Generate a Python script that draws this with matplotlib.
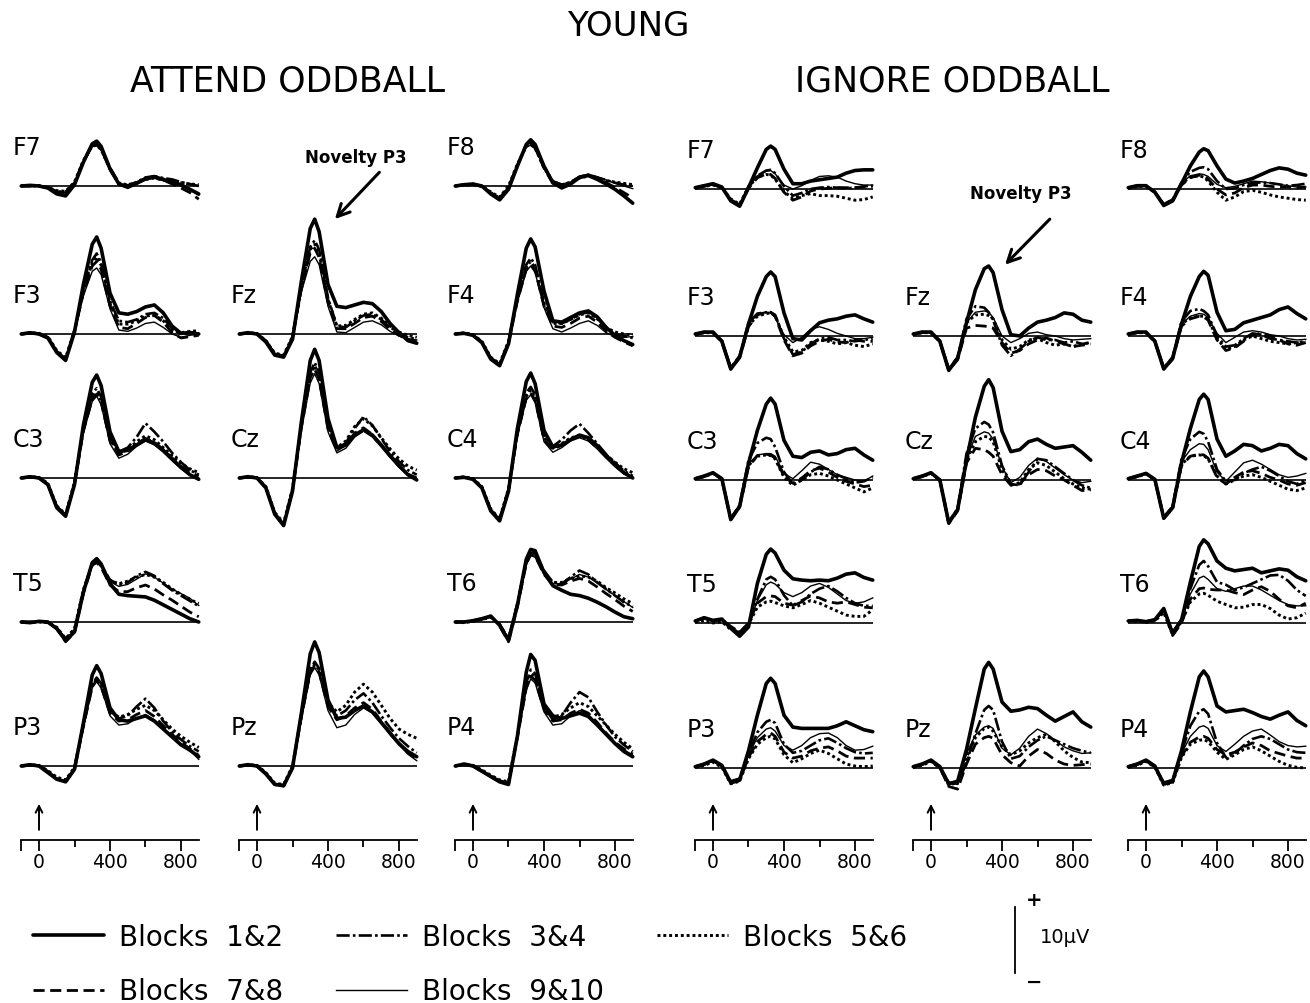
import numpy as np
import matplotlib.pyplot as plt
from matplotlib.lines import Line2D

plt.rcParams['font.family'] = 'DejaVu Sans'

W, H = 1310, 1004

times = [-100, -50, 0, 50, 100, 150, 200, 250, 300, 325, 350, 400, 450,
         500, 550, 600, 650, 700, 750, 800, 850, 900]
blocks = ['Blocks  1&2', 'Blocks  3&4', 'Blocks  5&6', 'Blocks  7&8', 'Blocks  9&10']
scale_uv = 10

# ---- ATTEND ODDBALL (uV), rows = blocks 1&2, 3&4, 5&6, 7&8, 9&10
att_F7 = [[0, 0.1, 0, -0.3, -1.2, -1.5, 0.2, 3.6, 6.4, 6.8, 6.0, 2.6, 0.3, -0.2, 0.4, 1.1, 1.4, 1.0, 0.6, 0.2, -0.5, -1.2],
          [0, 0, 0.1, -0.2, -0.8, -0.9, 0.5, 3.8, 6.2, 6.4, 5.7, 2.8, 0.5, 0.1, 0.6, 1.3, 1.5, 1.2, 1.0, 0.6, 0.3, 0.0],
          [0.1, 0, 0, -0.2, -0.7, -0.8, 0.6, 3.9, 6.0, 6.2, 5.5, 2.6, 0.4, 0.2, 0.5, 1.0, 1.2, 0.9, 0.7, 0.5, 0.3, 0.2],
          [0, 0, 0, -0.3, -0.9, -1.0, 0.4, 3.7, 6.1, 6.3, 5.6, 2.5, 0.3, 0.0, 0.5, 1.2, 1.3, 0.9, 0.3, -0.3, -1.0, -2.0],
          [0, 0.1, 0, -0.2, -0.8, -1.1, 0.3, 3.5, 6.0, 6.1, 5.4, 2.4, 0.2, 0.0, 0.3, 0.9, 1.2, 0.8, 0.4, 0.0, -0.6, -1.4]]
att_F8 = [[0, 0.2, 0.3, 0, -1.2, -2.1, -0.5, 3.0, 6.3, 7.0, 6.3, 3.0, 0.5, -0.3, 0.3, 1.3, 1.6, 1.0, 0.3, -0.5, -1.5, -2.6],
          [0, 0.2, 0.3, 0, -1.0, -1.8, -0.2, 3.2, 6.1, 6.5, 5.9, 3.0, 0.7, 0.2, 0.6, 1.4, 1.7, 1.3, 0.9, 0.5, 0.2, 0.0],
          [0, 0.1, 0.2, 0, -0.9, -1.7, 0, 3.3, 6.0, 6.3, 5.7, 2.8, 0.6, 0.2, 0.5, 1.2, 1.5, 1.1, 0.8, 0.6, 0.4, 0.2],
          [0, 0.2, 0.3, -0.1, -1.1, -1.9, -0.3, 3.1, 6.2, 6.6, 5.8, 2.7, 0.4, -0.1, 0.4, 1.3, 1.6, 1.1, 0.5, -0.2, -1.0, -1.8],
          [0, 0.1, 0.2, 0, -1.0, -1.8, -0.2, 3.0, 5.9, 6.2, 5.6, 2.9, 0.8, 0.3, 0.6, 1.5, 1.8, 1.4, 0.9, 0.4, 0, -0.4]]
att_F3 = [[0, 0.2, 0, -0.6, -2.8, -4.0, 0.3, 7.5, 13.6, 14.7, 13.0, 6.2, 3.2, 3.0, 3.4, 4.1, 4.4, 3.2, 1.2, 0.1, 0.2, 0],
          [0, 0.1, 0, -0.5, -2.6, -3.8, 0.5, 6.8, 11.2, 12.2, 10.8, 5.0, 2.0, 1.8, 2.2, 3.0, 3.2, 2.4, 0.8, 0, 0.3, 0.1],
          [0, 0.2, 0.1, -0.4, -2.5, -3.6, 0.6, 6.5, 10.8, 11.7, 10.4, 4.6, 1.5, 1.5, 2.0, 2.7, 2.9, 2.0, 0.6, 0.2, 0.4, 0.5],
          [0, 0.1, 0, -0.6, -2.7, -3.9, 0.4, 6.2, 10.3, 11.0, 9.8, 4.3, 1.0, 0.8, 1.6, 2.5, 2.8, 1.8, 0.2, -0.6, -0.4, -0.2],
          [0, 0.1, 0, -0.5, -2.6, -3.7, 0.2, 5.8, 9.5, 10.0, 9.0, 3.8, 0.6, 0.4, 0.9, 1.6, 1.8, 1.0, 0, -0.5, -0.2, 0]]
att_Fz = [[0, 0.2, 0, -1.2, -3.2, -3.5, -0.8, 8.0, 16.0, 17.4, 15.5, 7.5, 4.2, 4.0, 4.4, 4.8, 4.6, 3.4, 1.6, 0.2, -1.0, -1.4],
          [0, 0.1, 0, -1.0, -3.0, -3.3, -0.5, 7.2, 13.2, 14.2, 12.8, 5.5, 1.2, 1.0, 2.0, 2.8, 3.0, 2.2, 1.0, 0.2, -0.5, -0.8],
          [0, 0.2, 0.1, -1.0, -2.9, -3.2, -0.4, 7.0, 12.8, 13.6, 12.2, 5.2, 1.2, 1.3, 2.2, 3.0, 3.2, 2.4, 1.2, 0.3, -0.2, -0.5],
          [0, 0.1, 0, -1.1, -3.1, -3.4, -0.6, 6.8, 12.3, 13.0, 11.6, 4.8, 0.8, 0.8, 1.6, 2.5, 2.7, 1.9, 0.7, -0.2, -0.8, -1.2],
          [0, 0.1, 0, -1.0, -3.0, -3.3, -0.6, 6.4, 11.0, 11.7, 10.5, 4.2, 0.3, 0.2, 1.0, 1.8, 2.0, 1.4, 0.4, -0.3, -0.7, -0.9]]
att_F4 = [[0, 0.1, -0.2, -1.3, -3.8, -4.8, -1.5, 6.0, 13.0, 14.4, 13.2, 6.5, 2.0, 1.8, 2.5, 3.2, 3.5, 2.6, 1.0, -0.2, -1.0, -1.6],
          [0, 0.1, -0.1, -1.2, -3.6, -4.6, -1.2, 5.4, 10.5, 11.5, 10.5, 4.8, 1.8, 1.6, 2.2, 3.0, 3.3, 2.4, 0.9, 0, -0.3, -0.6],
          [0, 0.2, -0.1, -1.1, -3.5, -4.5, -1.1, 5.2, 10.2, 11.0, 10.0, 4.5, 1.6, 1.6, 2.2, 2.9, 3.2, 2.3, 1.0, 0.3, 0, -0.2],
          [0, 0.1, -0.2, -1.3, -3.7, -4.7, -1.4, 5.0, 9.8, 10.6, 9.7, 4.2, 1.2, 1.0, 1.6, 2.4, 2.7, 1.8, 0.4, -0.5, -1.2, -1.8],
          [0, 0.1, -0.1, -1.2, -3.6, -4.6, -1.3, 4.8, 9.5, 10.3, 9.3, 4.0, 0.8, 0.3, 0.9, 1.6, 2.0, 1.3, 0.2, -0.4, -0.5, -0.4]]
att_C3 = [[0, 0.2, 0, -1.0, -4.5, -5.8, -1.0, 8.0, 14.5, 15.6, 14.0, 7.0, 4.0, 4.2, 5.0, 5.8, 5.3, 4.2, 2.9, 1.6, 0.5, -0.2],
          [0, 0.1, 0, -0.9, -4.3, -5.6, -0.8, 7.5, 12.8, 13.6, 12.3, 6.2, 4.0, 4.6, 6.2, 8.3, 7.0, 5.5, 3.8, 2.4, 1.2, 0.5],
          [0, 0.2, 0.1, -0.8, -4.2, -5.5, -0.6, 7.3, 12.3, 13.0, 11.8, 5.9, 3.8, 4.3, 5.5, 6.4, 5.8, 4.6, 3.4, 2.2, 1.4, 0.8],
          [0, 0.1, 0, -1.0, -4.4, -5.7, -0.9, 7.1, 12.0, 12.7, 11.5, 5.6, 3.5, 4.0, 5.2, 6.0, 5.4, 4.3, 3.0, 1.8, 0.9, 0.3],
          [0, 0.1, 0, -0.9, -4.3, -5.6, -1.0, 6.8, 11.6, 12.4, 11.1, 5.2, 3.0, 3.6, 4.8, 5.6, 5.0, 3.9, 2.6, 1.4, 0.5, 0]]
att_Cz = [[0, 0.2, 0, -1.5, -5.5, -7.2, -2.0, 8.5, 17.8, 19.5, 17.8, 9.0, 4.6, 5.0, 6.5, 7.3, 6.5, 5.0, 3.4, 1.9, 0.5, -0.3],
          [0, 0.1, 0, -1.4, -5.3, -7.0, -1.8, 8.0, 16.0, 17.5, 16.0, 8.0, 4.5, 5.3, 7.5, 9.3, 8.0, 6.0, 4.0, 2.5, 1.2, 0.5],
          [0, 0.2, 0.1, -1.3, -5.2, -6.8, -1.6, 7.8, 15.6, 17.0, 15.6, 7.8, 4.6, 5.6, 7.8, 9.0, 7.9, 6.1, 4.4, 2.9, 1.8, 1.2],
          [0, 0.1, 0, -1.5, -5.4, -7.1, -1.9, 7.6, 15.2, 16.5, 15.0, 7.4, 4.2, 5.0, 6.8, 7.6, 6.6, 5.0, 3.3, 1.8, 0.6, 0],
          [0, 0.1, 0, -1.4, -5.3, -7.0, -1.9, 7.2, 14.4, 15.8, 14.3, 7.0, 3.8, 4.5, 6.2, 7.1, 6.2, 4.7, 3.1, 1.6, 0.4, -0.2]]
att_C4 = [[0, 0.1, -0.2, -1.5, -5.0, -6.5, -2.0, 7.5, 14.6, 15.9, 14.3, 7.2, 4.7, 5.0, 5.8, 6.5, 6.1, 4.9, 3.4, 2.0, 0.8, 0],
          [0, 0.1, -0.1, -1.4, -4.8, -6.3, -1.8, 7.0, 12.9, 13.8, 12.6, 6.4, 4.8, 5.8, 7.2, 8.2, 6.8, 5.2, 3.6, 2.3, 1.1, 0.3],
          [0, 0.2, -0.1, -1.3, -4.7, -6.2, -1.6, 6.8, 12.4, 13.3, 12.1, 6.1, 4.5, 5.2, 6.1, 6.4, 5.8, 4.7, 3.5, 2.4, 1.4, 0.8],
          [0, 0.1, -0.2, -1.5, -4.9, -6.4, -1.9, 6.6, 12.1, 12.9, 11.8, 5.8, 4.3, 5.0, 5.9, 6.3, 5.8, 4.6, 3.2, 1.9, 0.8, 0.1],
          [0, 0.1, -0.1, -1.4, -4.8, -6.3, -1.8, 6.4, 11.8, 12.6, 11.4, 5.5, 3.9, 4.6, 5.6, 6.1, 5.6, 4.4, 3.0, 1.7, 0.6, 0]]
att_T5 = [[0, -0.1, 0.1, 0, -1.0, -2.8, -1.5, 4.5, 9.0, 9.6, 8.8, 5.8, 4.2, 4.0, 3.9, 3.8, 3.3, 2.6, 1.9, 1.2, 0.5, 0],
          [0, 0, 0.1, -0.1, -0.9, -2.6, -1.2, 4.8, 8.8, 9.2, 8.6, 6.4, 5.6, 6.0, 7.0, 7.6, 7.0, 5.8, 4.8, 4.0, 3.2, 2.4],
          [0, -0.1, 0, -0.1, -0.8, -2.5, -1.0, 4.9, 8.7, 9.1, 8.5, 6.3, 5.8, 6.2, 6.8, 7.2, 6.8, 6.0, 5.0, 4.2, 3.4, 2.8],
          [0, 0, 0.1, 0, -1.0, -3.0, -1.6, 4.3, 8.6, 9.0, 8.3, 5.6, 4.6, 4.6, 5.2, 5.6, 5.0, 4.1, 3.3, 2.4, 1.5, 0.8],
          [0, 0, 0, -0.1, -0.9, -2.7, -1.3, 4.6, 8.7, 9.3, 8.5, 6.1, 5.4, 5.7, 6.5, 7.3, 6.8, 5.9, 5.0, 4.3, 3.6, 2.5]]
att_T6 = [[0, 0, 0.2, 0.5, 0.9, -0.5, -2.8, 2.5, 9.5, 11.0, 10.8, 7.5, 5.5, 4.8, 4.2, 4.0, 3.6, 3.0, 2.3, 1.5, 0.8, 0.5],
          [0, 0, 0.2, 0.4, 0.8, -0.3, -2.5, 2.8, 9.2, 10.6, 10.4, 7.8, 6.0, 5.8, 6.8, 7.8, 7.2, 6.0, 5.0, 4.0, 3.0, 2.3],
          [0, -0.1, 0.1, 0.4, 0.7, -0.4, -2.6, 2.7, 9.0, 10.4, 10.2, 7.6, 6.0, 6.0, 6.6, 7.0, 6.8, 6.2, 5.2, 4.4, 3.5, 2.8],
          [0, 0, 0.2, 0.5, 0.9, -0.6, -3.0, 2.3, 8.8, 10.2, 10.0, 7.2, 5.7, 5.6, 6.2, 6.6, 6.2, 5.3, 4.3, 3.4, 2.4, 1.6],
          [0, 0, 0.1, 0.4, 0.8, -0.4, -2.7, 2.5, 8.7, 10.1, 9.8, 7.3, 5.8, 5.8, 6.5, 7.2, 6.8, 5.9, 4.9, 4.0, 3.1, 2.2]]
att_P3 = [[0, 0.2, 0, -1.0, -2.0, -2.4, -0.5, 6.5, 13.8, 15.2, 14.0, 8.8, 7.0, 6.8, 7.2, 7.6, 6.8, 5.6, 4.4, 3.2, 2.4, 1.4],
          [0, 0.1, 0, -0.8, -1.9, -2.3, -0.3, 6.2, 12.4, 13.4, 12.5, 8.4, 7.2, 7.6, 9.0, 10.2, 8.8, 6.8, 5.2, 4.0, 3.0, 2.2],
          [0, 0.2, 0.1, -0.7, -1.7, -2.1, -0.2, 6.3, 12.2, 13.2, 12.3, 8.3, 7.4, 7.8, 8.6, 9.2, 8.4, 7.0, 5.6, 4.5, 3.6, 2.8],
          [0, 0.1, 0, -0.9, -2.0, -2.4, -0.5, 6.0, 12.0, 13.0, 12.0, 8.0, 6.8, 7.0, 7.8, 8.4, 7.5, 6.1, 4.8, 3.6, 2.6, 1.6],
          [0, 0.1, 0, -0.8, -1.9, -2.2, -0.4, 5.8, 11.9, 12.8, 11.8, 7.6, 6.2, 6.4, 7.2, 7.8, 7.0, 5.8, 4.5, 3.4, 2.4, 1.0]]
att_Pz = [[0, 0.2, 0, -1.2, -2.8, -3.0, -0.3, 8.0, 17.0, 18.8, 17.2, 10.0, 7.2, 7.4, 8.4, 9.1, 8.2, 6.6, 5.0, 3.4, 2.2, 1.4],
          [0, 0.1, 0, -1.1, -2.7, -2.9, -0.2, 7.6, 14.6, 15.8, 14.8, 9.4, 7.6, 8.4, 10.0, 11.0, 9.6, 7.6, 5.8, 4.2, 3.0, 2.0],
          [0, 0.2, 0.1, -1.0, -2.6, -2.8, 0, 7.8, 14.4, 15.4, 14.6, 9.6, 8.2, 9.2, 11.2, 12.4, 11.2, 9.2, 7.2, 5.6, 4.8, 4.2],
          [0, 0.1, 0, -1.2, -2.8, -3.0, -0.3, 7.4, 14.2, 15.2, 14.2, 9.0, 7.0, 7.6, 8.8, 9.6, 8.6, 6.8, 5.0, 3.4, 2.0, 1.0],
          [0, 0.1, 0, -1.1, -2.7, -2.9, -0.4, 7.0, 13.8, 14.9, 13.8, 8.4, 5.8, 6.2, 7.8, 8.8, 8.0, 6.4, 4.7, 3.2, 1.8, 0.8]]
att_P4 = [[0, 0.3, 0, -0.8, -1.6, -2.4, -2.8, 4.5, 14.2, 16.9, 16.0, 9.4, 7.6, 7.2, 7.6, 8.0, 7.5, 6.2, 4.8, 3.4, 2.2, 1.4],
          [0, 0.2, 0.1, -0.7, -1.5, -2.2, -2.6, 4.6, 12.6, 14.6, 14.0, 9.0, 7.0, 7.6, 9.6, 11.2, 10.4, 8.2, 6.2, 4.4, 3.2, 2.2],
          [0, 0.3, 0.1, -0.6, -1.4, -2.1, -2.4, 4.7, 12.2, 14.0, 13.5, 9.0, 7.4, 7.8, 8.8, 9.6, 9.0, 7.6, 6.2, 4.8, 3.6, 2.6],
          [0, 0.2, 0, -0.8, -1.6, -2.3, -2.7, 4.3, 11.8, 13.6, 13.0, 8.6, 6.8, 7.0, 8.0, 8.6, 8.0, 6.6, 5.0, 3.6, 2.6, 1.8],
          [0, 0.2, 0, -0.7, -1.5, -2.2, -2.6, 4.2, 11.5, 13.2, 12.6, 8.2, 6.2, 6.4, 7.6, 8.4, 7.8, 6.4, 4.9, 3.5, 2.5, 1.6]]

# ---- IGNORE ODDBALL (uV)
ign_F7 = [[0.2, 0.5, 0.8, 0.3, -1.8, -2.6, 0.2, 3.2, 6.0, 6.5, 6.0, 3.0, 0.8, 0.8, 1.2, 1.4, 1.6, 1.8, 2.4, 2.8, 2.9, 2.9],
          [0.2, 0.4, 0.7, 0.2, -1.6, -2.4, 0.4, 2.0, 2.8, 2.9, 2.4, 0.4, -1.0, -0.6, 0, 0.2, 0.3, 0.2, 0.1, 0.2, 0.4, 0.5],
          [0.1, 0.4, 0.6, 0.2, -1.5, -2.3, 0.3, 1.8, 2.2, 2.1, 1.5, -0.4, -1.4, -1.0, -0.7, -1.0, -1.0, -1.1, -1.4, -1.7, -1.6, -1.2],
          [0.2, 0.5, 0.7, 0.2, -1.7, -2.6, 0.1, 1.7, 2.3, 2.2, 1.6, -0.5, -1.7, -1.2, -0.3, 0, 0.1, 0.2, 0.2, 0.2, 0.3, 0.4],
          [0.2, 0.4, 0.6, 0.3, -1.6, -2.4, 0.3, 2.0, 2.7, 2.8, 2.3, 0.6, 0, 0.5, 1.3, 1.9, 2.0, 1.8, 1.2, 0.8, 0.6, 0.6]]
ign_F8 = [[0.2, 0.5, 0.5, -0.5, -2.5, -1.8, 0.8, 3.5, 5.6, 6.1, 5.8, 3.5, 1.5, 0.9, 1.2, 1.6, 2.2, 2.8, 3.2, 3.0, 2.4, 2.1],
          [0.2, 0.4, 0.5, -0.4, -2.3, -1.6, 1.0, 2.6, 3.2, 3.3, 3.0, 1.2, 0, 0.1, 0.6, 0.9, 1.0, 0.9, 0.7, 0.5, 0.6, 0.8],
          [0.1, 0.4, 0.4, -0.5, -2.3, -1.7, 0.8, 1.8, 2.0, 1.8, 1.2, -0.5, -1.7, -1.2, -0.4, -0.2, -0.5, -0.9, -1.2, -1.4, -1.6, -1.7],
          [0.2, 0.5, 0.5, -0.5, -2.4, -1.8, 0.6, 1.7, 2.1, 2.0, 1.5, 0, -0.9, -0.6, 0.2, 0.6, 0.6, 0.4, 0.3, 0.3, 0.2, 0.3],
          [0.2, 0.4, 0.5, -0.4, -2.3, -1.6, 0.9, 2.0, 2.3, 2.2, 1.9, 0.7, 0.2, 0.4, 0.8, 1.2, 1.1, 0.9, 0.7, 0.5, 0.3, 0.3]]
ign_F3 = [[0.3, 0.6, 0.6, -0.8, -5.0, -3.2, 1.8, 6.0, 9.0, 9.7, 9.0, 3.5, -0.4, -0.6, 0.8, 2.0, 2.4, 2.6, 3.0, 3.2, 2.6, 2.1],
          [0.3, 0.5, 0.5, -0.7, -4.8, -3.0, 2.0, 3.4, 3.6, 3.6, 3.2, -0.4, -2.8, -2.4, -1.2, -0.4, -0.2, -0.6, -0.6, -0.8, -0.6, -0.4],
          [0.2, 0.5, 0.5, -0.8, -4.9, -3.2, 1.6, 3.0, 3.4, 3.5, 3.1, -0.2, -2.4, -2.2, -1.0, -0.6, -0.8, -1.2, -1.0, -1.4, -1.6, -1.2],
          [0.3, 0.6, 0.5, -0.9, -5.0, -3.3, 1.4, 3.2, 3.6, 3.6, 3.0, -0.6, -3.0, -2.6, -1.5, -0.8, -0.5, -0.9, -1.0, -0.6, -0.8, -0.8],
          [0.3, 0.5, 0.6, -0.7, -4.8, -3.1, 1.8, 3.3, 3.6, 3.5, 2.8, 0.2, -1.0, -0.2, 1.0, 1.4, 1.0, 0.4, 0, -0.4, -0.4, -0.2]]
ign_Fz = [[0.3, 0.6, 0.6, -0.8, -5.2, -3.4, 2.0, 7.0, 10.2, 10.6, 9.6, 4.0, 0.2, 0, 1.2, 2.1, 2.4, 2.8, 3.5, 3.3, 2.4, 2.1],
          [0.3, 0.5, 0.5, -0.7, -5.0, -3.2, 2.6, 4.5, 4.3, 3.6, 2.4, -1.4, -3.0, -2.0, -0.8, -0.2, -0.6, -0.6, -1.0, -0.8, -1.2, -1.0],
          [0.2, 0.5, 0.5, -0.8, -5.1, -3.3, 2.0, 3.2, 3.3, 3.1, 2.6, -0.6, -2.0, -1.6, -0.6, -0.4, -1.0, -1.4, -1.2, -1.6, -1.2, -1.0],
          [0.3, 0.6, 0.5, -0.9, -5.2, -3.6, 1.2, 1.6, 1.5, 1.4, 1.2, -1.0, -2.6, -2.2, -1.2, -0.6, -0.3, -0.8, -1.2, -1.6, -1.4, -1.2],
          [0.3, 0.5, 0.6, -0.7, -5.0, -3.2, 2.0, 3.6, 3.8, 3.6, 2.8, 0, -1.0, -0.4, 0.4, 0.6, 0.2, 0, -0.4, -0.6, -0.5, -0.4]]
ign_F4 = [[0.3, 0.6, 0.6, -0.8, -5.0, -3.4, 1.8, 6.0, 9.0, 9.8, 9.2, 3.6, 0.8, 1.0, 2.0, 2.4, 2.8, 3.2, 4.0, 4.4, 3.4, 2.6],
          [0.3, 0.5, 0.5, -0.7, -4.8, -3.2, 2.2, 3.8, 4.1, 3.8, 3.2, 0, -1.6, -1.4, -0.4, 0.4, 0.2, -0.4, -0.6, -0.8, -1.0, -1.0],
          [0.2, 0.5, 0.5, -0.8, -4.9, -3.3, 1.8, 2.8, 3.0, 3.0, 2.6, -0.4, -2.0, -1.6, -0.6, 0, -0.4, -0.8, -1.0, -1.2, -1.0, -0.8],
          [0.3, 0.6, 0.5, -0.9, -5.0, -3.5, 1.5, 2.6, 3.0, 2.9, 2.4, -0.6, -2.2, -1.8, -0.8, 0.2, 0.4, 0, -0.6, -1.2, -1.4, -1.0],
          [0.3, 0.5, 0.6, -0.7, -4.8, -3.2, 1.8, 3.0, 3.4, 3.3, 2.8, 0.4, -1.0, -0.2, 0.6, 0.8, 0.6, 0.2, 0, -0.4, -0.6, -0.5]]
ign_C3 = [[0.2, 0.6, 1.1, 0.2, -6.0, -4.0, 2.5, 7.5, 11.5, 12.4, 11.5, 6.0, 3.6, 3.4, 4.2, 4.4, 3.8, 4.0, 4.6, 4.8, 3.8, 3.0],
          [0.2, 0.5, 1.0, 0.1, -5.8, -3.8, 3.0, 5.6, 6.4, 6.2, 5.0, 1.2, -0.6, 0, 1.2, 2.0, 1.6, 0.8, 0.2, -0.4, -0.2, 0.4],
          [0.2, 0.5, 1.0, 0.2, -5.9, -4.0, 2.2, 3.6, 3.8, 3.7, 3.2, 0.4, -0.8, 0, 0.8, 1.0, 0.6, 0, -0.6, -1.2, -1.8, -1.2],
          [0.2, 0.6, 1.1, 0.1, -6.0, -4.1, 2.0, 3.7, 3.9, 3.8, 3.3, 0.6, -0.5, 0.3, 1.4, 1.8, 1.2, 0.4, -0.2, -0.6, -1.0, -0.8],
          [0.2, 0.5, 1.0, 0.2, -5.8, -3.8, 2.4, 3.8, 4.0, 4.0, 3.6, 1.0, 0.2, 1.4, 2.7, 2.4, 1.6, 0.8, 0.4, 0, -0.2, 0.6]]
ign_Cz = [[0.2, 0.6, 1.1, 0, -6.5, -4.5, 3.0, 9.5, 14.2, 15.2, 14.0, 7.4, 4.3, 4.6, 5.8, 6.2, 5.4, 4.8, 5.0, 5.2, 4.2, 3.0],
          [0.2, 0.5, 1.0, 0, -6.3, -4.3, 4.0, 7.8, 8.8, 8.4, 7.2, 2.2, -0.6, -0.8, 1.2, 3.2, 3.0, 2.0, 1.0, 0, -0.8, -1.2],
          [0.2, 0.5, 1.0, 0, -6.4, -4.4, 3.0, 5.8, 6.6, 6.5, 5.8, 1.6, -0.8, -0.4, 1.6, 2.6, 2.2, 1.2, 0.2, -0.6, -1.2, -1.4],
          [0.2, 0.6, 1.1, -0.1, -6.6, -4.7, 2.6, 4.8, 4.6, 4.2, 3.6, 0.8, -0.8, -0.6, 0.8, 1.6, 1.4, 0.6, 0, -0.8, -1.6, -1.5],
          [0.2, 0.5, 1.0, 0, -6.3, -4.3, 3.2, 6.6, 7.3, 7.1, 6.2, 2.0, -0.4, 0.4, 2.2, 3.3, 2.8, 1.8, 0.8, 0, -0.4, -0.2]]
ign_C4 = [[0.2, 0.6, 1.0, 0.1, -5.8, -4.2, 2.6, 7.8, 12.2, 13.0, 12.2, 6.2, 3.6, 4.4, 5.4, 5.2, 4.4, 4.8, 5.4, 5.2, 4.0, 3.2],
          [0.2, 0.5, 1.0, 0, -5.6, -4.0, 3.2, 6.2, 7.3, 7.0, 5.8, 1.6, -0.2, 0, 1.0, 1.6, 2.0, 1.4, 0.6, -0.2, -0.6, 0],
          [0.2, 0.5, 0.9, 0.1, -5.7, -4.1, 2.4, 3.6, 3.8, 3.7, 3.2, 0.6, -0.6, 0, 0.6, 0.8, 0.4, -0.2, -0.8, -1.4, -1.6, -1.2],
          [0.2, 0.6, 1.0, 0, -5.8, -4.3, 2.2, 3.6, 3.9, 3.8, 3.3, 0.4, -0.6, 0.4, 1.2, 1.4, 1.0, 0.4, 0, -0.6, -0.8, -0.4],
          [0.2, 0.5, 1.0, 0.1, -5.6, -4.0, 2.8, 4.6, 5.5, 5.4, 4.6, 1.2, -0.2, 1.2, 2.6, 3.0, 2.4, 1.6, 0.8, 0.4, 0.6, 1.0]]
ign_T5 = [[0.3, 0.8, 0.4, 0.6, -0.8, -2.0, -0.6, 6.0, 10.4, 11.2, 10.6, 8.0, 6.7, 6.5, 6.4, 6.5, 6.4, 6.8, 7.4, 7.6, 6.9, 6.5],
          [0.3, 0.7, 0.3, 0.5, -0.6, -1.6, -0.4, 3.6, 6.6, 7.0, 6.6, 4.2, 2.6, 3.2, 4.4, 5.2, 5.6, 4.8, 3.8, 3.0, 2.6, 2.6],
          [0.1, 0.4, 0, 0.2, -1.0, -1.4, -0.2, 2.4, 3.2, 3.3, 3.1, 2.6, 2.3, 2.8, 3.4, 3.0, 2.4, 1.8, 1.2, 1.0, 1.0, 2.0],
          [0.3, 0.8, 0.3, 0.5, -0.5, -1.4, 0, 3.0, 4.0, 4.1, 4.0, 3.0, 2.7, 3.4, 4.1, 3.8, 3.2, 3.0, 3.2, 2.8, 2.4, 2.3],
          [0.3, 0.7, 0.4, 0.6, -0.6, -1.5, -0.3, 3.4, 5.8, 6.2, 5.9, 4.6, 4.0, 4.6, 5.6, 6.0, 5.4, 4.4, 3.4, 3.0, 3.2, 3.8]]
ign_T6 = [[0.3, 0.4, 0.2, 0.5, 2.2, -1.6, 0.4, 6.2, 11.6, 12.6, 12.0, 9.4, 8.3, 7.9, 8.1, 8.3, 7.6, 7.9, 8.2, 8.0, 7.0, 6.4],
          [0.3, 0.4, 0.2, 0.4, 2.0, -1.4, 0.6, 5.2, 8.8, 9.4, 8.6, 6.2, 5.8, 5.0, 5.4, 6.0, 6.6, 7.2, 7.3, 6.4, 5.0, 4.1],
          [0.2, 0.3, 0.1, 0.3, 1.6, -1.8, 0.2, 3.2, 4.4, 4.5, 4.2, 3.3, 2.8, 2.3, 2.4, 2.8, 2.8, 2.2, 1.2, 0.6, 0.8, 1.5],
          [0.3, 0.4, 0.2, 0.5, 2.0, -1.9, 0, 3.6, 5.2, 5.3, 5.1, 5.0, 5.0, 4.6, 4.3, 5.0, 5.5, 4.8, 3.6, 2.6, 2.3, 3.0],
          [0.3, 0.4, 0.2, 0.4, 1.9, -1.5, 0.4, 4.4, 6.8, 7.1, 6.6, 5.2, 4.8, 5.2, 5.6, 5.6, 5.0, 4.2, 3.4, 2.8, 2.6, 2.6]]
ign_P3 = [[0.2, 0.6, 1.2, 0.4, -2.2, -1.8, 2.6, 8.0, 12.8, 13.6, 12.8, 8.0, 6.2, 6.0, 6.0, 6.0, 6.0, 6.4, 7.0, 6.4, 5.8, 5.5],
          [0.2, 0.5, 1.1, 0.3, -2.0, -1.6, 2.2, 5.4, 7.0, 7.3, 6.8, 3.6, 2.3, 2.6, 3.4, 4.2, 4.5, 3.8, 3.0, 2.4, 2.2, 2.3],
          [0.1, 0.4, 0.9, 0.1, -2.4, -2.0, 1.4, 3.6, 4.6, 4.8, 4.4, 2.0, 0.8, 1.4, 2.2, 2.7, 2.2, 1.4, 0.6, 0.3, 0.2, 0.3],
          [0.2, 0.6, 1.1, 0.3, -2.3, -1.9, 1.6, 4.0, 5.1, 5.3, 4.8, 2.4, 1.5, 1.8, 2.6, 3.0, 3.2, 2.6, 1.8, 1.5, 1.5, 1.5],
          [0.2, 0.5, 1.1, 0.3, -2.1, -1.7, 2.0, 4.6, 5.9, 6.1, 5.6, 3.4, 2.7, 3.4, 4.6, 5.2, 5.3, 4.6, 3.4, 2.7, 2.8, 3.3]]
ign_Pz = [[0.2, 0.6, 1.2, 0.2, -2.4, -2.0, 2.8, 9.0, 15.0, 16.0, 15.0, 10.0, 8.6, 8.8, 9.2, 9.0, 8.0, 7.1, 7.8, 8.5, 7.0, 6.2],
          [0.2, 0.5, 1.1, 0.1, -2.2, -2.4, 0.8, 5.2, 8.8, 9.4, 8.8, 4.0, 1.4, 1.8, 3.2, 4.2, 4.8, 4.2, 3.6, 3.0, 2.6, 2.3],
          [0.1, 0.4, 1.0, 0, -2.6, -2.2, 1.6, 4.6, 6.0, 6.2, 5.6, 3.2, 2.0, 2.6, 3.8, 4.6, 5.1, 4.0, 2.6, 1.6, 0.9, 0.8],
          [0.2, 0.6, 1.1, 0, -2.8, -3.2, 0.6, 3.6, 4.6, 4.8, 4.5, 2.0, 0.8, 0.3, 1.8, 2.8, 2.2, 1.2, 0.6, 0.4, 0.5, 0.6],
          [0.2, 0.5, 1.1, 0.2, -2.3, -2.0, 2.2, 5.0, 6.2, 6.4, 6.0, 3.0, 2.0, 3.0, 4.8, 5.9, 5.2, 4.2, 3.2, 2.6, 2.2, 2.3]]
ign_P4 = [[0.2, 0.6, 1.2, 0.3, -2.4, -2.0, 2.6, 8.5, 13.8, 14.7, 13.8, 9.4, 8.5, 8.7, 8.9, 8.4, 7.8, 7.4, 8.0, 8.5, 7.2, 6.4],
          [0.2, 0.5, 1.1, 0.2, -2.2, -1.8, 2.4, 6.4, 8.6, 8.9, 8.2, 3.8, 1.6, 2.2, 3.4, 4.4, 4.8, 4.4, 3.6, 2.8, 2.4, 2.3],
          [0.1, 0.4, 1.0, 0.1, -2.6, -2.2, 1.6, 3.6, 4.2, 4.3, 4.0, 2.4, 1.3, 2.0, 2.8, 3.2, 2.6, 1.8, 1.0, 0.4, 0.1, 0],
          [0.2, 0.6, 1.1, 0.2, -2.5, -2.1, 1.8, 3.9, 4.7, 4.8, 4.5, 2.8, 2.0, 2.4, 3.2, 3.8, 3.4, 2.6, 2.2, 1.8, 1.5, 1.5],
          [0.2, 0.5, 1.1, 0.3, -2.3, -1.9, 2.2, 4.8, 6.2, 6.4, 6.0, 3.4, 2.5, 3.6, 4.8, 5.6, 5.9, 5.0, 4.0, 3.4, 3.2, 3.3]]

# (label, column 0-5, row 0-4, data)
panels = [('F7', 0, 0, att_F7), ('F8', 2, 0, att_F8),
          ('F3', 0, 1, att_F3), ('Fz', 1, 1, att_Fz), ('F4', 2, 1, att_F4),
          ('C3', 0, 2, att_C3), ('Cz', 1, 2, att_Cz), ('C4', 2, 2, att_C4),
          ('T5', 0, 3, att_T5), ('T6', 2, 3, att_T6),
          ('P3', 0, 4, att_P3), ('Pz', 1, 4, att_Pz), ('P4', 2, 4, att_P4),
          ('F7', 3, 0, ign_F7), ('F8', 5, 0, ign_F8),
          ('F3', 3, 1, ign_F3), ('Fz', 4, 1, ign_Fz), ('F4', 5, 1, ign_F4),
          ('C3', 3, 2, ign_C3), ('Cz', 4, 2, ign_Cz), ('C4', 5, 2, ign_C4),
          ('T5', 3, 3, ign_T5), ('T6', 5, 3, ign_T6),
          ('P3', 3, 4, ign_P3), ('Pz', 4, 4, ign_Pz), ('P4', 5, 4, ign_P4)]

# layout in pixels
zero_x = [39, 257, 473, 713, 931, 1146]
base_left = [187, 335, 479, 623, 767]
base_right = [190, 337, 481, 624, 769]
PX_MS = 0.1775
PX_UV = 6.6
YLO, YHI = -9, 21

styles = [dict(color='k', lw=2.6, ls='-', solid_capstyle='round', solid_joinstyle='round'),
          dict(color='k', lw=1.9, dashes=(5, 1.2, 1, 1.2)),
          dict(color='k', lw=2.1, dashes=(1, 1)),
          dict(color='k', lw=2.0, dashes=(4, 2)),
          dict(color='k', lw=1.0, ls='-')]


def add_px_axes(left, top, width, height):
    return fig.add_axes([left / W, 1 - (top + height) / H, width / W, height / H])


fig = plt.figure(figsize=(W / 100, H / 100), dpi=100)

panel_axes = {}
for label, col, row, data in panels:
    base = (base_left if col < 3 else base_right)[row]
    left = zero_x[col] - 100 * PX_MS
    top = base - YHI * PX_UV
    ax = add_px_axes(left, top, 1000 * PX_MS, (YHI - YLO) * PX_UV)
    ax.set_xlim(-100, 900)
    ax.set_ylim(YLO, YHI)
    ax.axis('off')
    ax.patch.set_visible(False)
    ax.axhline(0, color='k', lw=1.2)
    for k in [4, 3, 2, 1, 0]:
        ax.plot(times, data[k], clip_on=False, **styles[k])
    ax.text(-148, 5.9, label, fontsize=17, ha='left', va='center')
    panel_axes[(col, row)] = ax

# time axes with stimulus arrow
for col in range(6):
    left = zero_x[col] - 100 * PX_MS
    tax = add_px_axes(left, 800, 1000 * PX_MS, 41)
    tax.set_xlim(-100, 900)
    tax.set_ylim(0, 1)
    tax.patch.set_visible(False)
    for s in ['top', 'left', 'right']:
        tax.spines[s].set_visible(False)
    tax.spines['bottom'].set_linewidth(1.3)
    tax.set_yticks([])
    tax.set_xticks([-100, 0, 400, 800])
    tax.set_xticklabels(['', '0', '400', '800'])
    tax.set_xticks([200, 600], minor=True)
    tax.tick_params(axis='x', which='major', direction='out', length=8, width=1.3,
                    labelsize=13.5, pad=1)
    tax.tick_params(axis='x', which='minor', direction='out', length=5, width=1.3)
    tax.annotate('', xy=(0, 0.95), xytext=(0, 0.18),
                 arrowprops=dict(arrowstyle='->', lw=1.4, color='k', mutation_scale=12))

# Novelty P3 annotations
for col, tip, tail, dx, dy in [(1, (428, 17.1), (700, 24.8), -146, 2.0),
                               (4, (406, 10.5), (680, 18.0), -175, 3.6)]:
    ax = panel_axes[(col, 1)]
    ax.annotate('', xy=tip, xytext=tail, annotation_clip=False,
                arrowprops=dict(arrowstyle='->', lw=2.2, color='k', mutation_scale=22))
    ax.text(tail[0] + dx, tail[1] + dy, 'Novelty P3', fontsize=12, fontweight='bold',
            ha='center', va='center')

# titles
fig.text(628 / W, 1 - 27 / H, 'YOUNG', fontsize=24.5, ha='center', va='center')
fig.text(287 / W, 1 - 82 / H, 'ATTEND ODDBALL', fontsize=25, ha='center', va='center')
fig.text(952 / W, 1 - 82 / H, 'IGNORE ODDBALL', fontsize=25, ha='center', va='center')

# legend
handles = [Line2D([], [], **styles[k]) for k in range(5)]
order = [0, 3, 1, 4, 2]
fig.legend([handles[k] for k in order], [blocks[k] for k in order], ncol=3,
           loc='upper left', bbox_to_anchor=(33 / W, 1 - 924 / H), frameon=False,
           fontsize=20, handlelength=2.55, handletextpad=0.55, columnspacing=1.9,
           labelspacing=0.95, borderpad=0, borderaxespad=0)

# scale bar
sax = add_px_axes(1005, 908, 20, scale_uv * PX_UV)
sax.set_xlim(-1, 1)
sax.set_ylim(0, scale_uv)
sax.axis('off')
sax.plot([0, 0], [0, scale_uv], color='k', lw=1.3, clip_on=False)
fig.text(1034 / W, 1 - 901 / H, '+', fontsize=14, fontweight='bold', ha='center', va='center')
fig.text(1034 / W, 1 - 982 / H, '\u2212', fontsize=14, fontweight='bold', ha='center', va='center')
fig.text(1040 / W, 1 - 938 / H, '10\u00b5V', fontsize=14, ha='left', va='center')

fig.savefig('out.png', dpi=100)
